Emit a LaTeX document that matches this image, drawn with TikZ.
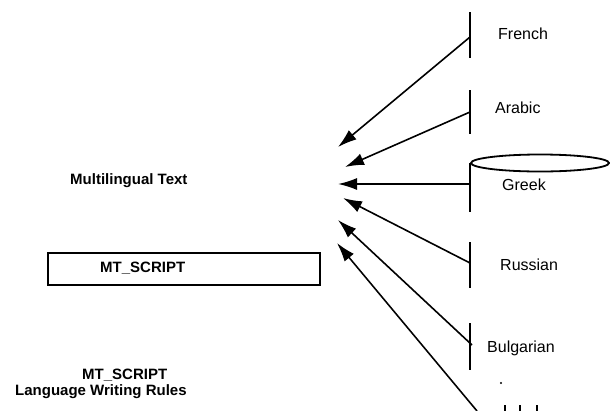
\documentclass[tikz,border=0pt]{standalone}
\usepackage{fontspec}
\setmainfont{Liberation Sans}
\usetikzlibrary{arrows.meta}
\begin{document}
\begin{tikzpicture}[x=1pt,y=-1pt,
  lbl/.style={font=\fontsize{16}{18}\selectfont, anchor=base west, inner sep=0pt},
  blbl/.style={font=\fontsize{15}{17}\selectfont\bfseries, anchor=base west, inner sep=0pt},
  bar/.style={line width=2.6pt},
  flow/.style={line width=1.6pt, -{Latex[length=19pt,width=12pt]}},
  scriptframe/.style={draw, line width=1.8pt, minimum width=272pt, minimum height=32pt, inner sep=0pt}
]
\useasboundingbox (0,0) rectangle (610,410);

% left side: text, script box, rules
\node[blbl] (mtext) at (70,184) {Multilingual Text};
\node[scriptframe] (scriptbox) at (184,269) {};
\node[blbl] (boxlbl) at (100,272) {MT\_SCRIPT};
\node[blbl] (rules1) at (82,379) {MT\_SCRIPT};
\node[blbl] (rules2) at (15,395) {Language Writing Rules};

% language stores
\coordinate (frTop) at (470,12);  \coordinate (frBot) at (470,58);
\coordinate (arTop) at (470,90);  \coordinate (arBot) at (470,134);
\coordinate (grTop) at (470,163); \coordinate (grBot) at (470,212);
\coordinate (ruTop) at (470,242); \coordinate (ruBot) at (470,288);
\coordinate (bgTop) at (470,323); \coordinate (bgBot) at (470,370);
\draw[bar] (frTop) -- (frBot);
\draw[bar] (arTop) -- (arBot);
\draw[bar] (grTop) -- (grBot);
\draw[bar] (ruTop) -- (ruBot);
\draw[bar] (bgTop) -- (bgBot);
\draw[line width=1.8pt] (540,163) ellipse [x radius=69, y radius=8.5];

\node[lbl] (french) at (498,39) {French};
\node[lbl] (arabic) at (495,113) {Arabic};
\node[lbl] (greek) at (502,190) {Greek};
\node[lbl] (russian) at (500,270) {Russian};
\node[lbl] (bulgarian) at (487,352) {Bulgarian};

% arrow sources and tips
\coordinate (frOut) at (470,37);
\coordinate (arOut) at (470,112);
\coordinate (grOut) at (470,184);
\coordinate (ruOut) at (470,263);
\coordinate (bgOut) at (472,345);
\coordinate (lowOut) at (477,411);
\coordinate (tipA) at (338,147);
\coordinate (tipB) at (345,167);
\coordinate (tipC) at (338,184);
\coordinate (tipD) at (343,198);
\coordinate (tipE) at (338,220);
\coordinate (tipF) at (337,243);

\draw[flow] (frOut) -- (tipA);
\draw[flow] (arOut) -- (tipB);
\draw[flow] (grOut) -- (tipC);
\draw[flow] (ruOut) -- (tipD);
\draw[flow] (bgOut) -- (tipE);
\draw[flow] (lowOut) -- (tipF);

% marks at the lower edge
\fill (501,383) circle (1.1pt);
\draw[line width=2.4pt] (505,405) -- (505,411);
\draw[line width=2.4pt] (520,405) -- (520,411);
\draw[line width=2.4pt] (537,405) -- (537,411);
\end{tikzpicture}
\end{document}
